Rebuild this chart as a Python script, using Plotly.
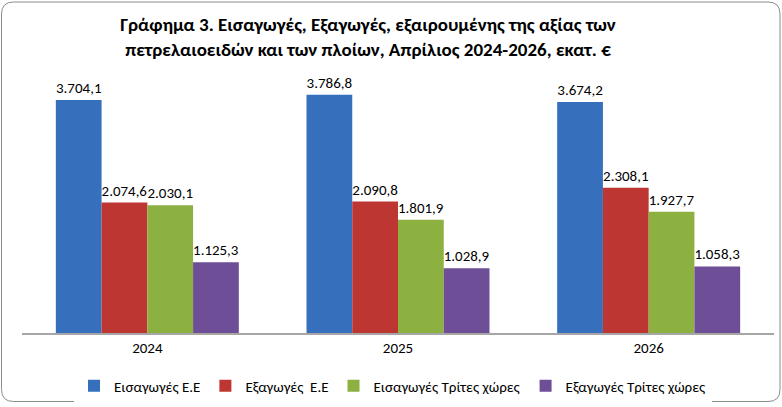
import plotly.graph_objects as go

# data (εκατ. €)
years = ["2024", "2025", "2026"]
imports_eu = [3704.1, 3786.8, 3674.2]
exports_eu = [2074.6, 2090.8, 2308.1]
imports_third = [2030.1, 1801.9, 1927.7]
exports_third = [1125.3, 1028.9, 1058.3]

series_names = ["Εισαγωγές Ε.Ε", "Εξαγωγές  Ε.Ε", "Εισαγωγές Τρίτες χώρες", "Εξαγωγές Τρίτες χώρες"]
series_values = [imports_eu, exports_eu, imports_third, exports_third]
colors = ["#3670BC", "#BD3632", "#8DB140", "#6E4E96"]

FONT = "Carlito, Calibri, 'Open Sans', sans-serif"

W, H = 782, 407
ML, MR, MT, MB = 22, 8, 85, 74

fig = go.Figure()
for name, vals, col in zip(series_names, series_values, colors):
    fig.add_trace(go.Bar(
        x=years,
        y=vals,
        name=name,
        marker_color=col,
        marker_line_width=0,
        texttemplate="%{y:,.1f}",
        textposition="outside",
        textfont=dict(size=15, color="black", family=FONT),
        cliponaxis=False,
    ))

# convert pixel positions to paper coords for the rounded outer border
pw, ph = W - ML - MR, H - MT - MB
def px(x):
    return (x - ML) / pw
def py(y):
    return (H - MB - y) / ph

x0, x1, y0, y1, r = 1.5, 780, 2, 401.5, 12
border = (
    f"M {px(x0 + r)},{py(y0)} L {px(x1 - r)},{py(y0)} "
    f"Q {px(x1)},{py(y0)} {px(x1)},{py(y0 + r)} "
    f"L {px(x1)},{py(y1 - r)} Q {px(x1)},{py(y1)} {px(x1 - r)},{py(y1)} "
    f"L {px(x0 + r)},{py(y1)} Q {px(x0)},{py(y1)} {px(x0)},{py(y1 - r)} "
    f"L {px(x0)},{py(y0 + r)} Q {px(x0)},{py(y0)} {px(x0 + r)},{py(y0)} Z"
)

fig.update_layout(
    width=W,
    height=H,
    barmode="group",
    bargap=0.27,
    bargroupgap=0,
    separators=",.",
    paper_bgcolor="white",
    plot_bgcolor="white",
    margin=dict(l=ML, r=MR, t=MT, b=MB),
    font=dict(family=FONT, size=15, color="black"),
    title=dict(
        text="<b>Γράφημα 3. Εισαγωγές, Εξαγωγές, εξαιρουμένης της αξίας των<br>"
             "πετρελαιοειδών και των πλοίων, Απρίλιος 2024-2026, εκατ. €</b>",
        x=368 / W,
        xanchor="center",
        y=1 - 31 / H,
        yanchor="middle",
        font=dict(family=FONT, size=19, color="black"),
    ),
    legend=dict(
        orientation="h",
        x=393 / W,
        xanchor="center",
        xref="container",
        y=1 - 386 / H,
        yref="container",
        yanchor="middle",
        font=dict(family=FONT, size=15),
        itemwidth=30,
        tracegroupgap=0,
    ),
    shapes=[dict(type="path", path=border, xref="paper", yref="paper",
                 line=dict(color="#8c8c8c", width=1))],
)
fig.update_xaxes(
    showline=True, linecolor="#a6a6a6", linewidth=2,
    ticks="", tickfont=dict(size=15, family=FONT),
    showgrid=False,
)
fig.update_yaxes(visible=False, range=[0, 3943], showgrid=False)

# drop the default body margin so the figure sits at the window's corner
fig.write_html("out.html", config={"displayModeBar": False},
               post_script="document.body.style.margin='0px';")
